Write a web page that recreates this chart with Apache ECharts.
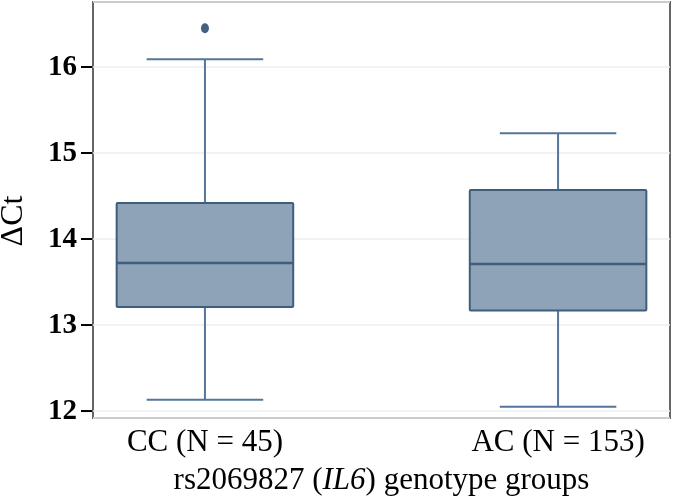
<!DOCTYPE html>
<html>
<head>
<meta charset="utf-8">
<script src="https://cdn.jsdelivr.net/npm/echarts@6/dist/echarts.min.js"></script>
<style>
html,body{margin:0;padding:0;background:#fff;}
#chart{width:673px;height:499px;}
</style>
</head>
<body>
<div id="chart"></div>
<script>
// ---- data ----
var categories = ['CC (N = 45)', 'AC (N = 153)'];
var lowerWhisker = [12.13, 12.05];
var q1 = [13.21, 13.17];
var median = [13.72, 13.71];
var q3 = [14.42, 14.57];
var upperWhisker = [16.09, 15.23];
var outliers = [[0, 16.45]];
var yTicks = [12, 13, 14, 15, 16];

// ---- style constants ----
var X_MIN = -0.317, X_MAX = 1.317, Y_MIN = 11.919, Y_MAX = 16.756;
var BOX_W = 0.5, CAP_W = 0.33, TICK_LEN = 11;
var FILL = '#8ea3b7', BORDER = '#3f5e7e', WHISK = '#56759a';

var boxData = categories.map(function (c, i) {
  return [i, lowerWhisker[i], q1[i], median[i], q3[i], upperWhisker[i]];
});
var tickData = yTicks.map(function (v) { return [X_MIN, v]; });

function renderBox(params, api) {
  var x = api.value(0);
  var pLow = api.coord([x, api.value(1)]);
  var pQ1 = api.coord([x, api.value(2)]);
  var pMed = api.coord([x, api.value(3)]);
  var pQ3 = api.coord([x, api.value(4)]);
  var pHigh = api.coord([x, api.value(5)]);
  var bw = api.size([BOX_W, 0])[0];
  var cw = api.size([CAP_W, 0])[0];
  var cx = pMed[0];
  var ls = {stroke: WHISK, lineWidth: 2};
  return {
    type: 'group',
    children: [
      {type: 'line', shape: {x1: cx, y1: pLow[1], x2: cx, y2: pQ1[1]}, style: ls},
      {type: 'line', shape: {x1: cx, y1: pQ3[1], x2: cx, y2: pHigh[1]}, style: ls},
      {type: 'line', shape: {x1: cx - cw / 2, y1: pLow[1], x2: cx + cw / 2, y2: pLow[1]}, style: ls},
      {type: 'line', shape: {x1: cx - cw / 2, y1: pHigh[1], x2: cx + cw / 2, y2: pHigh[1]}, style: ls},
      {type: 'rect', shape: {x: cx - bw / 2, y: pQ3[1], width: bw, height: pQ1[1] - pQ3[1], r: 1},
        style: {fill: FILL, stroke: BORDER, lineWidth: 2}},
      {type: 'line', shape: {x1: cx - bw / 2, y1: pMed[1], x2: cx + bw / 2, y2: pMed[1]},
        style: {stroke: BORDER, lineWidth: 2.5}}
    ]
  };
}

function renderTick(params, api) {
  var p = api.coord([api.value(0), api.value(1)]);
  return {
    type: 'rect',
    shape: {x: p[0] - TICK_LEN - 1, y: p[1] - 1, width: TICK_LEN, height: 2},
    style: {fill: '#000'}
  };
}

var chart = echarts.init(document.getElementById('chart'), null, {renderer: 'canvas'});
chart.setOption({
  animation: false,
  backgroundColor: '#ffffff',
  grid: {left: 93, right: 3, top: 2, bottom: 81, containLabel: false, outerBoundsMode: 'none',
    show: true, borderColor: '#666666', borderWidth: 2, backgroundColor: 'transparent'},
  xAxis: {
    type: 'value', min: X_MIN, max: X_MAX,
    axisLine: {show: false, onZero: false}, axisTick: {show: false}, splitLine: {show: false},
    axisLabel: {
      customValues: [0, 1], margin: 9,
      formatter: function (v) { return categories[Math.round(v)]; },
      fontFamily: 'Liberation Serif', fontSize: 31, color: '#000'
    },
    name: '{n|rs2069827 (}{i|IL6}{n|) genotype groups}',
    nameLocation: 'middle', nameGap: 47,
    nameTextStyle: {
      rich: {
        n: {fontFamily: 'Liberation Serif', fontSize: 31, color: '#000'},
        i: {fontFamily: 'Liberation Serif', fontSize: 31, fontStyle: 'italic', color: '#000'}
      }
    }
  },
  yAxis: {
    type: 'value', min: Y_MIN, max: Y_MAX,
    axisLine: {show: false, onZero: false},
    axisTick: {show: false},
    axisLabel: {customValues: yTicks, margin: 16, fontFamily: 'Liberation Serif', fontWeight: 'bold', fontSize: 29, color: '#000'},
    splitLine: {show: true, customValues: yTicks, lineStyle: {color: '#eeeeee', width: 1.5}},
    name: 'ΔCt', nameLocation: 'middle', nameGap: 63, nameRotate: 90,
    nameTextStyle: {fontFamily: 'Liberation Serif', fontSize: 32, color: '#000', padding: [0, 22, 0, 0]}
  },
  series: [
    {
      type: 'custom', renderItem: renderTick, data: tickData,
      encode: {x: 0, y: 1}, clip: false, silent: true, z: 10
    },
    {
      type: 'custom', renderItem: renderBox, data: boxData,
      encode: {x: 0, y: [1, 2, 3, 4, 5]}, z: 3
    },
    {
      type: 'scatter', data: outliers, symbol: 'circle', symbolSize: [8, 10],
      itemStyle: {color: '#173a62'}, z: 4
    }
  ]
});
</script>
</body>
</html>
